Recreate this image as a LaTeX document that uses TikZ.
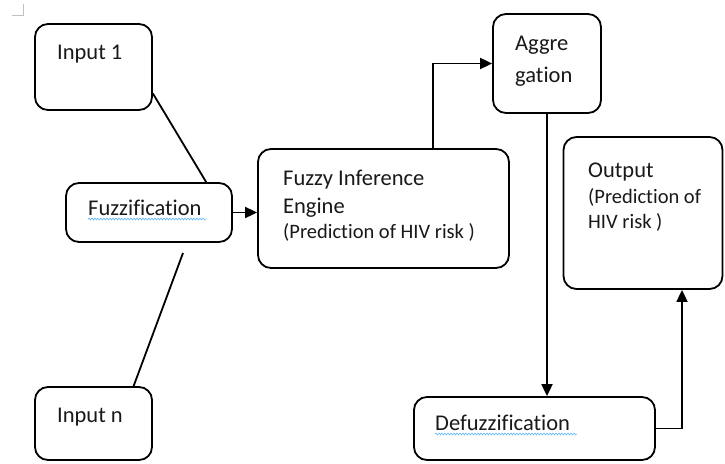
\documentclass[tikz,border=0pt]{standalone}
\usepackage{fontspec}
\setmainfont{Carlito}[Ligatures=CommonOff]
\usetikzlibrary{arrows.meta,decorations.pathmorphing}
\tikzset{
  box/.style={draw=black, line width=1.8pt, rounded corners=13pt, inner sep=0pt, fill=white},
  lbl/.style={inner sep=0pt, anchor=base west, font=\fontsize{22.5}{26}\selectfont, text=black!90},
  slbl/.style={inner sep=0pt, anchor=base west, font=\fontsize{20.5}{24}\selectfont, text=black!90},
  conn/.style={draw=black, line width=1.8pt},
  arr/.style={conn, -{Triangle[length=12pt,width=11pt]}},
  wavy/.style={draw=blue!45!cyan!70, line width=0.5pt, decorate, decoration={snake, amplitude=1pt, segment length=3pt}},
  cornermark/.style={draw=black!25, line width=0.8pt}
}
\begin{document}
\begin{tikzpicture}[x=1pt,y=-1pt]
\useasboundingbox (0,0) rectangle (725,463);
% corner mark
\coordinate (m1) at (23,4);
\coordinate (m2) at (23,15);
\coordinate (m3) at (12,15);
\draw[cornermark] (m1) -- (m2) -- (m3);
% boxes
\node[box, minimum width=117pt, minimum height=86pt] (in1) at (93.5,67) {};
\node[box, minimum width=166pt, minimum height=59pt] (fuzz) at (149,212.5) {};
\node[box, minimum width=117pt, minimum height=73pt] (inn) at (93.5,423.5) {};
\node[box, minimum width=251pt, minimum height=119pt] (fie) at (383.5,208.5) {};
\node[box, minimum width=108pt, minimum height=99pt] (agg) at (547,63.5) {};
\node[box, minimum width=159pt, minimum height=152pt] (out) at (643,213) {};
\node[box, minimum width=241pt, minimum height=63pt] (defz) at (534.5,428.5) {};
% texts
\node[lbl] (t1) at (57,59) {Input 1};
\node[lbl] (t2) at (88,215) {Fuzzification};
\node[lbl] (t3) at (57,422) {Input n};
\node[lbl] (t4) at (283,185) {Fuzzy Inference};
\node[lbl] (t5) at (283,213) {Engine};
\node[slbl] (t6) at (283,238) {(Prediction of HIV risk )};
\node[lbl] (t7) at (515,50) {Aggre};
\node[lbl] (t8) at (515,82) {gation};
\node[lbl] (t9) at (588,177) {Output};
\node[slbl] (t10) at (588,203) {(Prediction of};
\node[slbl] (t11) at (588,228) {HIV risk )};
\node[lbl] (t12) at (435,430) {Defuzzification};
% spell-check underlines
\draw[wavy] (t2.base west) ++(0,4) -- ++(118,0);
\draw[wavy] (t12.base west) ++(0,4) -- ++(142,0);
% connectors
\draw[conn] (in1.-24) -- (fuzz.28.6);
\coordinate (g1) at (183,253);
\draw[conn] (g1) -- (inn.43.5);
\draw[arr] (fuzz.east) -- (fie.west |- fuzz.east);
\draw[arr] ([xshift=49.5pt]fie.north) |- (agg.west);
\draw[arr] (agg.south) -- (agg.south |- defz.north);
\draw[arr] (defz.east) -| ([xshift=39pt]out.south);
\end{tikzpicture}
\end{document}
